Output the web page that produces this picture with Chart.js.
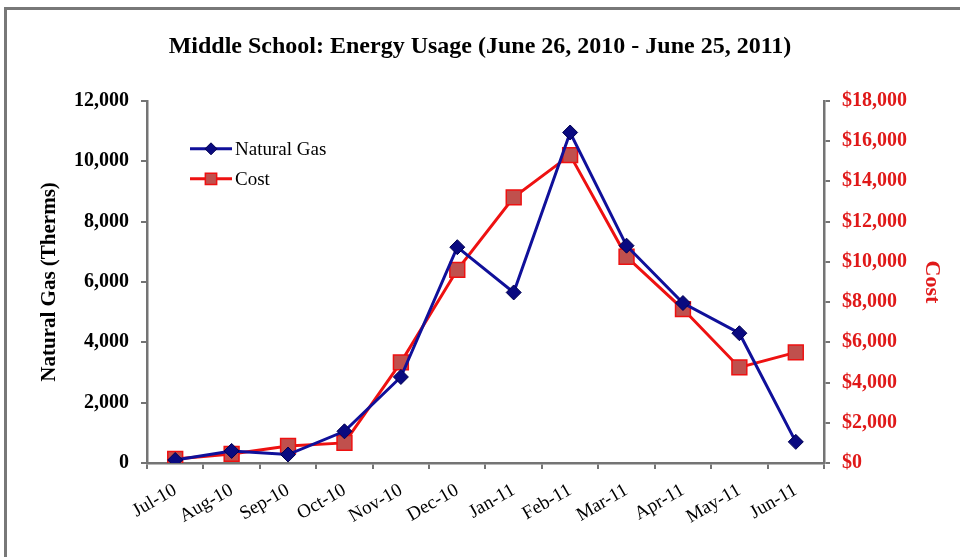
<!DOCTYPE html>
<html lang="en">
<head>
<meta charset="UTF-8">
<title>Middle School: Energy Usage</title>
<script src="https://cdn.jsdelivr.net/npm/chart.js"></script>
<style>
  html, body { margin: 0; padding: 0; background: #fff; }
  #wrap { position: relative; width: 960px; height: 557px; overflow: hidden; }
  #frame { position: absolute; left: 4px; top: 7px; width: 1000px; height: 600px; border: 3px solid #787878; }
  #chart { position: absolute; left: 0; top: 0; }
</style>
</head>
<body>
<div id="wrap">
  <div id="frame"></div>
  <canvas id="chart" width="960" height="557"></canvas>
</div>
<script>
const months = ['Jul-10', 'Aug-10', 'Sep-10', 'Oct-10', 'Nov-10', 'Dec-10', 'Jan-11', 'Feb-11', 'Mar-11', 'Apr-11', 'May-11', 'Jun-11'];
const gasTherms = [100, 400, 280, 1050, 2850, 7150, 5650, 10950, 7200, 5300, 4300, 700];
const costDollars = [200, 450, 850, 1000, 5000, 9600, 13200, 15300, 10250, 7650, 4750, 5500];

const serif = '"Liberation Serif", "Times New Roman", serif';
const axisGray = '#747474';

// legend drawn inside the plot, like the Excel original
const innerLegend = {
    id: 'innerLegend',
    afterDraw(chart) {
        const ctx = chart.ctx;
        const a = chart.chartArea;
        chart.data.datasets.forEach((ds, i) => {
            const x = a.left + 43;
            const y = a.top + 48 + i * 30;
            ctx.save();
            ctx.strokeStyle = ds.borderColor;
            ctx.lineWidth = ds.borderWidth;
            ctx.beginPath();
            ctx.moveTo(x, y);
            ctx.lineTo(x + 42, y);
            ctx.stroke();
            ctx.fillStyle = ds.pointBackgroundColor;
            ctx.strokeStyle = ds.pointBorderColor;
            ctx.lineWidth = ds.pointBorderWidth;
            Chart.helpers.drawPoint(ctx, { pointStyle: ds.pointStyle, radius: ds.legendRadius, borderWidth: ds.pointBorderWidth }, x + 21, y);
            ctx.fillStyle = '#000';
            ctx.font = '19px ' + serif;
            ctx.textBaseline = 'middle';
            ctx.fillText(ds.label, x + 45, y + 1);
            ctx.restore();
        });
    }
};

new Chart(document.getElementById('chart'), {
    type: 'line',
    data: {
        labels: months,
        datasets: [{
            label: 'Natural Gas',
            data: gasTherms,
            yAxisID: 'y',
            borderColor: '#10109a',
            borderWidth: 3,
            pointStyle: 'rectRot',
            pointRadius: 7.5,
            legendRadius: 6,
            pointBackgroundColor: '#0a0a80',
            pointBorderColor: '#000050',
            pointBorderWidth: 1,
            tension: 0
        }, {
            label: 'Cost',
            data: costDollars,
            yAxisID: 'y1',
            borderColor: '#ee1111',
            borderWidth: 3,
            pointStyle: 'rect',
            pointRadius: 10.5,
            legendRadius: 8,
            pointBackgroundColor: '#c0504d',
            pointBorderColor: '#ee1111',
            pointBorderWidth: 1.5,
            tension: 0
        }]
    },
    options: {
        responsive: false,
        animation: false,
        layout: { padding: 0 },
        plugins: {
            legend: { display: false },
            tooltip: { enabled: false },
            title: {
                display: true,
                text: 'Middle School: Energy Usage (June 26, 2010 - June 25, 2011)',
                color: '#000',
                font: { family: serif, size: 24, weight: 'bold' },
                padding: { top: 32, bottom: 40 }
            }
        },
        scales: {
            x: {
                offset: true,
                afterFit(s) { s.height = 94; },
                border: { display: true, color: axisGray, width: 2.5 },
                grid: { display: true, drawOnChartArea: false, offset: true, color: axisGray, lineWidth: 2, tickLength: 6 },
                ticks: { color: '#000', font: { family: serif, size: 19 }, minRotation: 30, maxRotation: 30, padding: 10 }
            },
            y: {
                position: 'left',
                min: 0, max: 12000,
                afterFit(s) { s.width = 147; },
                border: { display: true, color: axisGray, width: 2.5 },
                grid: { display: true, drawOnChartArea: false, color: axisGray, lineWidth: 2, tickLength: 6 },
                ticks: {
                    stepSize: 2000, color: '#000', padding: 12,
                    font: { family: serif, size: 20, weight: 'bold' },
                    callback: v => v.toLocaleString('en-US')
                },
                title: {
                    display: true, text: 'Natural Gas (Therms)', color: '#000',
                    font: { family: serif, size: 21, weight: 'bold' },
                    padding: { top: 37, bottom: 0 }
                }
            },
            y1: {
                position: 'right',
                min: 0, max: 18000,
                afterFit(s) { s.width = 136; },
                border: { display: true, color: axisGray, width: 2.5 },
                grid: { display: true, drawOnChartArea: false, color: axisGray, lineWidth: 2, tickLength: 6 },
                ticks: {
                    stepSize: 2000, color: '#e01818', padding: 12,
                    font: { family: serif, size: 20, weight: 'bold' },
                    callback: v => '$' + v.toLocaleString('en-US')
                },
                title: {
                    display: true, text: 'Cost', color: '#e01818',
                    font: { family: serif, size: 22, weight: 'bold' },
                    padding: { top: 15, bottom: 0 }
                }
            }
        }
    },
    plugins: [innerLegend]
});
</script>
</body>
</html>
